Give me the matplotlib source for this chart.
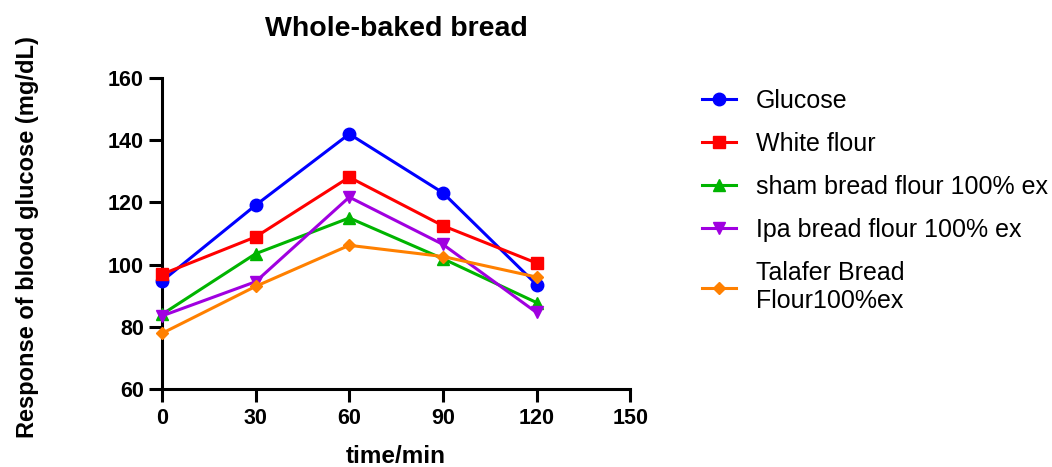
import matplotlib
matplotlib.use("Agg")
import matplotlib.pyplot as plt

plt.rcParams['font.family'] = ['Liberation Sans', 'DejaVu Sans']

time = [0, 30, 60, 90, 120]
glucose = [94.7, 119.1, 142.0, 123.1, 93.6]
white_flour = [96.9, 108.9, 128.1, 112.5, 100.5]
sham = [84.0, 103.5, 115.0, 101.9, 87.8]
ipa = [83.5, 94.5, 121.7, 106.5, 84.6]
talafer = [77.9, 93.0, 106.2, 102.6, 96.0]

labels = ["Glucose", "White flour", "sham bread flour 100% ex",
          "Ipa bread flour 100% ex", "Talafer Bread\nFlour100%ex"]
xticks = [0, 30, 60, 90, 120, 150]
yticks = [60, 80, 100, 120, 140, 160]

fig = plt.figure(figsize=(10.52, 4.67), dpi=100)
ax = fig.add_axes([0.154, 0.167, 0.445, 0.666])

series = [glucose, white_flour, sham, ipa, talafer]
colors = ["#0000ff", "#ff0000", "#00b400", "#a000e0", "#ff8000"]
markers = ["o", "s", "^", "v", "D"]
sizes = [9, 9, 9, 9, 6]
for y, lab, c, m, s in zip(series, labels, colors, markers, sizes):
    ax.plot(time, y, color=c, marker=m, markersize=s, linewidth=2.2,
            label=lab, clip_on=False, zorder=3)

ax.set_xlim(0, 150)
ax.set_ylim(60, 160)
ax.set_xticks(xticks, [str(t) for t in xticks], fontsize=15.5, fontweight="bold")
ax.set_yticks(yticks, [str(t) for t in yticks], fontsize=15.5, fontweight="bold")
for s in ["top", "right"]:
    ax.spines[s].set_visible(False)
for s in ["left", "bottom"]:
    ax.spines[s].set_linewidth(2.2)
ax.tick_params(width=2.2, length=9.5)
ax.tick_params(axis="y", pad=3.5)
ax.tick_params(axis="x", pad=4.5)

ax.set_title("Whole-baked bread", fontsize=20.5, fontweight="bold", pad=30)
ax.set_xlabel("time/min", fontsize=17.5, fontweight="bold")
ax.set_ylabel("Response of blood glucose (mg/dL)", fontsize=17,
              fontweight="bold")
ax.xaxis.set_label_coords(0.5, -0.18)
ax.yaxis.set_label_coords(-0.263, 0.49)

fig.legend(loc="upper left", bbox_to_anchor=(702 / 1052, 1 - 89 / 467),
           frameon=False, fontsize=18, handlelength=1.35, handletextpad=0.8,
           labelspacing=0.76, borderpad=0, borderaxespad=0)

fig.savefig("out.png", dpi=100)
